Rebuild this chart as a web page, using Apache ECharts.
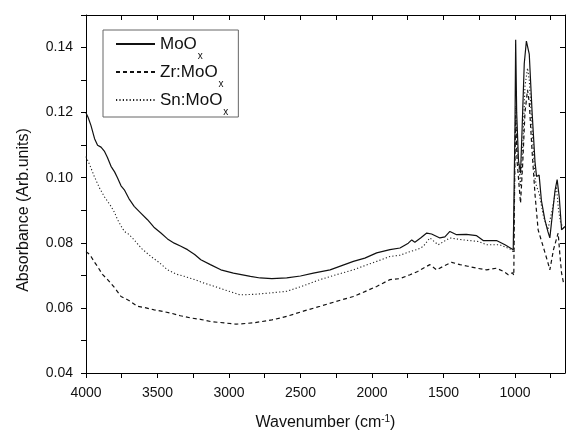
<!DOCTYPE html>
<html>
<head>
<meta charset="utf-8">
<script src="https://cdn.jsdelivr.net/npm/echarts@6/dist/echarts.min.js"></script>
<style>html,body{margin:0;padding:0;background:#fff}#c{width:566px;height:431px}</style>
</head>
<body>
<div id="c"></div>
<script>
// ---- data (wavenumber in cm^-1, absorbance in arb. units) ----
var waveMoO = [4000,3985,3965,3940,3919,3895,3872,3850,3825,3800,3780,3755,3732,3700,3663,3620,3570,3525,3476,3430,3383,3340,3290,3240,3197,3130,3057,2969,2850,2782,2700,2596,2500,2410,2293,2130,2050,1967,1874,1804,1746,1722,1700,1660,1617,1583,1525,1490,1455,1408,1340,1268,1222,1129,1070,1012,1006,1000,995,988,975,961,950,935,920,912,900,880,860,849,840,831,815,791,770,756,740,720,705,690,674,665,650];
var absMoO  = [0.1199,0.1185,0.1160,0.1120,0.1100,0.1094,0.1082,0.1062,0.1035,0.1018,0.1000,0.0975,0.0963,0.0936,0.0912,0.0893,0.0871,0.0848,0.0830,0.0812,0.0799,0.0790,0.0779,0.0764,0.0748,0.0733,0.0717,0.0707,0.0697,0.0692,0.0690,0.0692,0.0698,0.0707,0.0717,0.0743,0.0753,0.0769,0.0779,0.0784,0.0799,0.0809,0.0802,0.0815,0.0830,0.0827,0.0815,0.0818,0.0835,0.0825,0.0826,0.0822,0.0807,0.0807,0.0794,0.0779,0.0775,0.1150,0.1424,0.1200,0.1050,0.1014,0.1150,0.1350,0.1420,0.1426,0.1380,0.1200,0.1050,0.1004,0.1000,0.1008,0.0930,0.0871,0.0835,0.0815,0.0880,0.0960,0.0994,0.0940,0.0840,0.0845,0.0850];

var waveZr = [4000,3985,3965,3940,3919,3885,3849,3800,3755,3700,3640,3580,3523,3460,3406,3340,3266,3200,3127,3034,2950,2829,2700,2596,2480,2363,2250,2130,2050,1967,1874,1804,1734,1680,1641,1595,1548,1500,1443,1385,1330,1268,1198,1129,1080,1047,1016,1008,1002,995,985,961,945,930,912,900,880,860,838,803,770,756,730,698,685,674,660,650];
var absZr  = [0.0773,0.0768,0.0758,0.0740,0.0727,0.0703,0.0687,0.0662,0.0635,0.0623,0.0605,0.0600,0.0594,0.0589,0.0584,0.0576,0.0569,0.0565,0.0558,0.0554,0.0550,0.0554,0.0563,0.0574,0.0590,0.0605,0.0620,0.0635,0.0650,0.0666,0.0687,0.0690,0.0702,0.0712,0.0722,0.0733,0.0717,0.0728,0.0740,0.0733,0.0728,0.0722,0.0717,0.0722,0.0712,0.0702,0.0708,0.0700,0.1000,0.1190,0.1050,0.0922,0.1050,0.1200,0.1270,0.1230,0.1080,0.0950,0.0840,0.0789,0.0740,0.0717,0.0780,0.0830,0.0760,0.0707,0.0676,0.0680];

var waveSn = [4000,3970,3942,3905,3872,3825,3800,3779,3755,3732,3700,3663,3610,3546,3490,3430,3370,3313,3240,3173,3100,3034,2922,2812,2712,2596,2480,2363,2250,2130,2050,1967,1874,1804,1734,1680,1641,1595,1537,1455,1362,1257,1198,1106,1024,1008,1002,995,985,961,945,930,912,900,880,860,849,831,800,770,740,710,695,680,650];
var absSn  = [0.1065,0.1035,0.1004,0.0968,0.0942,0.0912,0.0893,0.0871,0.0852,0.0835,0.0826,0.0809,0.0782,0.0758,0.0740,0.0717,0.0704,0.0697,0.0687,0.0676,0.0666,0.0656,0.0640,0.0642,0.0646,0.0651,0.0668,0.0687,0.0702,0.0717,0.0730,0.0743,0.0758,0.0762,0.0773,0.0780,0.0789,0.0815,0.0794,0.0815,0.0809,0.0804,0.0794,0.0794,0.0779,0.0769,0.1000,0.1220,0.1100,0.0973,0.1100,0.1280,0.1337,0.1300,0.1150,0.1000,0.0973,0.0953,0.0880,0.0840,0.0900,0.0973,0.0900,0.0860,0.0840];

var seriesNames = ['MoOx', 'Zr:MoOx', 'Sn:MoOx'];
var xTickValues  = [750,1000,1250,1500,1750,2000,2250,2500,2750,3000,3250,3500,3750,4000];
var xLabelValues = [1000,1500,2000,2500,3000,3500,4000];
var yLabelValues = [0.04,0.06,0.08,0.10,0.12,0.14];

function pairs(xs, ys){ return xs.map(function(x,i){ return [x, ys[i]]; }); }

var chart = echarts.init(document.getElementById('c'), null, {renderer:'canvas'});
var FONT = 'Liberation Sans, Arial, sans-serif';
var INK = '#111';

chart.setOption({
  backgroundColor: '#fff',
  animation: false,
  grid: {left: 86, right: 1, top: 15, bottom: 58, containLabel: false, outerBoundsMode: 'none'},
  legend: {
    orient: 'vertical',
    left: 103, top: 30,
    padding: [4, 10, 0, 12],
    itemGap: 1,
    itemWidth: 39, itemHeight: 14,
    borderColor: '#666', borderWidth: 1,
    itemStyle: {color: 'rgba(0,0,0,0)', borderWidth: 0, opacity: 0},
    data: seriesNames,
    formatter: function(n){ return n.replace('MoOx', 'MoO{s|x}'); },
    textStyle: {fontFamily: FONT, fontSize: 17, color: INK, lineHeight: 20,
      rich: {s: {fontFamily: FONT, fontSize: 10, color: INK, verticalAlign: 'bottom', lineHeight: 20, padding: [0,0,-7,1]}}}
  },
  xAxis: [{
    type: 'value', min: 650, max: 4000, inverse: true,
    name: 'Wavenumber (cm{p|-1})', nameLocation: 'middle', nameGap: 41,
    nameTextStyle: {fontFamily: FONT, fontSize: 16, color: INK,
      rich: {p: {fontFamily: FONT, fontSize: 10, color: INK, verticalAlign: 'top', padding: [0,0,8,0]}}},
    axisLine: {show: true, onZero: false, lineStyle: {color: '#000', width: 1}},
    axisTick: {show: true, inside: false, length: 5, customValues: xTickValues, lineStyle: {color: '#000'}},
    axisLabel: {customValues: xLabelValues, margin: 13, fontFamily: FONT, fontSize: 14, color: INK,
      formatter: function(v){ return String(Math.round(v)); }},
    splitLine: {show: false}
  }, {
    type: 'value', min: 650, max: 4000, inverse: true, position: 'top',
    axisLine: {show: true, onZero: false, lineStyle: {color: '#000', width: 1}},
    axisTick: {show: true, inside: true, length: 5, customValues: xTickValues, lineStyle: {color: '#000'}},
    axisLabel: {show: false}, splitLine: {show: false}
  }],
  yAxis: [{
    type: 'value', min: 0.04, max: 0.15, interval: 0.01,
    axisLine: {show: true, onZero: false, lineStyle: {color: '#000', width: 1}},
    axisTick: {show: true, inside: false, length: 5, lineStyle: {color: '#000'}},
    axisLabel: {margin: 13, fontFamily: FONT, fontSize: 14, color: INK,
      formatter: function(v){
        for (var i=0;i<yLabelValues.length;i++){ if (Math.abs(v-yLabelValues[i])<1e-6) return yLabelValues[i].toFixed(2); }
        return '';
      }},
    splitLine: {show: false}
  }, {
    type: 'value', min: 0.04, max: 0.15, interval: 0.02, position: 'right',
    axisLine: {show: true, onZero: false, lineStyle: {color: '#000', width: 1}},
    axisTick: {show: true, inside: true, length: 5, lineStyle: {color: '#000'}},
    axisLabel: {show: false}, splitLine: {show: false}
  }],
  graphic: [{
    type: 'text', x: 24, y: 210, rotation: Math.PI/2,
    style: {text: 'Absorbance (Arb.units)', fontFamily: FONT, fontSize: 16, fill: INK, align: 'center', verticalAlign: 'middle'}
  }],
  series: [
    {name: seriesNames[0], type: 'line', data: pairs(waveMoO, absMoO), symbol: 'none', showSymbol: false,
      lineStyle: {color: INK, width: 1.2, type: 'solid'}, itemStyle: {color: INK}},
    {name: seriesNames[1], type: 'line', data: pairs(waveZr, absZr), symbol: 'none', showSymbol: false,
      lineStyle: {color: INK, width: 1.2, type: [4, 3]}, itemStyle: {color: INK}},
    {name: seriesNames[2], type: 'line', data: pairs(waveSn, absSn), symbol: 'none', showSymbol: false,
      lineStyle: {color: '#222', width: 1.1, type: [1.2, 2.2]}, itemStyle: {color: '#222'}}
  ]
});
</script>
</body>
</html>
